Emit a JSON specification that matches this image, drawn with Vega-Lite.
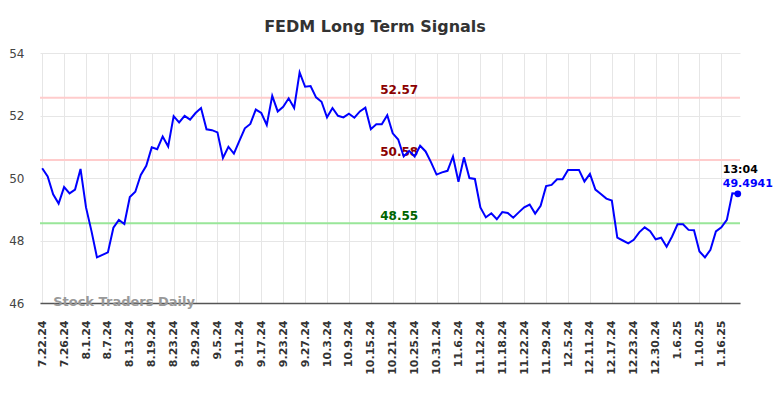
{
  "$schema": "https://vega.github.io/schema/vega-lite/v6.json",
  "width": 700,
  "height": 250,
  "autosize": {"type": "none"},
  "padding": {"left": 40, "top": 53, "right": 44, "bottom": 95},
  "background": "white",
  "title": {"text": "FEDM Long Term Signals", "font": "DejaVu Sans", "fontSize": 16, "fontWeight": "bold", "color": "#333333", "anchor": "middle", "dx": -15, "offset": 12},
  "config": {"view": {"stroke": null}, "font": "DejaVu Sans"},
  "resolve": {"scale": {"color": "independent"}},
  "datasets": {
    "prices": [
      {"date": "7.22.24", "close": 50.31}, {"date": "7.23.24", "close": 50.05}, {"date": "7.24.24", "close": 49.48}, {"date": "7.25.24", "close": 49.18},
      {"date": "7.26.24", "close": 49.71}, {"date": "7.29.24", "close": 49.51}, {"date": "7.30.24", "close": 49.63}, {"date": "7.31.24", "close": 50.29},
      {"date": "8.1.24", "close": 49.06}, {"date": "8.2.24", "close": 48.3}, {"date": "8.5.24", "close": 47.46}, {"date": "8.6.24", "close": 47.54},
      {"date": "8.7.24", "close": 47.62}, {"date": "8.8.24", "close": 48.41}, {"date": "8.9.24", "close": 48.66}, {"date": "8.12.24", "close": 48.53},
      {"date": "8.13.24", "close": 49.39}, {"date": "8.14.24", "close": 49.56}, {"date": "8.15.24", "close": 50.10}, {"date": "8.16.24", "close": 50.39},
      {"date": "8.19.24", "close": 50.98}, {"date": "8.20.24", "close": 50.92}, {"date": "8.21.24", "close": 51.33}, {"date": "8.22.24", "close": 51.01},
      {"date": "8.23.24", "close": 51.98}, {"date": "8.26.24", "close": 51.78}, {"date": "8.27.24", "close": 51.99}, {"date": "8.28.24", "close": 51.87},
      {"date": "8.29.24", "close": 52.08}, {"date": "8.30.24", "close": 52.24}, {"date": "9.3.24", "close": 51.56}, {"date": "9.4.24", "close": 51.53},
      {"date": "9.5.24", "close": 51.46}, {"date": "9.6.24", "close": 50.64}, {"date": "9.9.24", "close": 51.0}, {"date": "9.10.24", "close": 50.78},
      {"date": "9.11.24", "close": 51.19}, {"date": "9.12.24", "close": 51.59}, {"date": "9.13.24", "close": 51.73}, {"date": "9.16.24", "close": 52.19},
      {"date": "9.17.24", "close": 52.08}, {"date": "9.18.24", "close": 51.70}, {"date": "9.19.24", "close": 52.63}, {"date": "9.20.24", "close": 52.13},
      {"date": "9.23.24", "close": 52.28}, {"date": "9.24.24", "close": 52.55}, {"date": "9.25.24", "close": 52.24}, {"date": "9.26.24", "close": 53.38},
      {"date": "9.27.24", "close": 52.92}, {"date": "9.30.24", "close": 52.94}, {"date": "10.1.24", "close": 52.58}, {"date": "10.2.24", "close": 52.44},
      {"date": "10.3.24", "close": 51.94}, {"date": "10.4.24", "close": 52.24}, {"date": "10.7.24", "close": 51.99}, {"date": "10.8.24", "close": 51.94},
      {"date": "10.9.24", "close": 52.06}, {"date": "10.10.24", "close": 51.93}, {"date": "10.11.24", "close": 52.13}, {"date": "10.14.24", "close": 52.25},
      {"date": "10.15.24", "close": 51.56}, {"date": "10.16.24", "close": 51.72}, {"date": "10.17.24", "close": 51.72}, {"date": "10.18.24", "close": 52.01},
      {"date": "10.21.24", "close": 51.43}, {"date": "10.22.24", "close": 51.23}, {"date": "10.23.24", "close": 50.69}, {"date": "10.24.24", "close": 50.87},
      {"date": "10.25.24", "close": 50.69}, {"date": "10.28.24", "close": 51.03}, {"date": "10.29.24", "close": 50.85}, {"date": "10.30.24", "close": 50.50},
      {"date": "10.31.24", "close": 50.11}, {"date": "11.1.24", "close": 50.18}, {"date": "11.4.24", "close": 50.23}, {"date": "11.5.24", "close": 50.69},
      {"date": "11.6.24", "close": 49.88}, {"date": "11.7.24", "close": 50.66}, {"date": "11.8.24", "close": 50.0}, {"date": "11.11.24", "close": 49.97},
      {"date": "11.12.24", "close": 49.06}, {"date": "11.13.24", "close": 48.74}, {"date": "11.14.24", "close": 48.87}, {"date": "11.15.24", "close": 48.68},
      {"date": "11.18.24", "close": 48.91}, {"date": "11.19.24", "close": 48.88}, {"date": "11.20.24", "close": 48.73}, {"date": "11.21.24", "close": 48.90},
      {"date": "11.22.24", "close": 49.06}, {"date": "11.25.24", "close": 49.15}, {"date": "11.26.24", "close": 48.86}, {"date": "11.27.24", "close": 49.11},
      {"date": "11.29.24", "close": 49.74}, {"date": "12.2.24", "close": 49.78}, {"date": "12.3.24", "close": 49.96}, {"date": "12.4.24", "close": 49.96},
      {"date": "12.5.24", "close": 50.26}, {"date": "12.6.24", "close": 50.26}, {"date": "12.9.24", "close": 50.26}, {"date": "12.10.24", "close": 49.89},
      {"date": "12.11.24", "close": 50.13}, {"date": "12.12.24", "close": 49.63}, {"date": "12.13.24", "close": 49.49}, {"date": "12.16.24", "close": 49.34},
      {"date": "12.17.24", "close": 49.28}, {"date": "12.18.24", "close": 48.09}, {"date": "12.19.24", "close": 48.0}, {"date": "12.20.24", "close": 47.91},
      {"date": "12.23.24", "close": 48.02}, {"date": "12.24.24", "close": 48.26}, {"date": "12.26.24", "close": 48.42}, {"date": "12.27.24", "close": 48.30},
      {"date": "12.30.24", "close": 48.04}, {"date": "12.31.24", "close": 48.09}, {"date": "1.2.25", "close": 47.80}, {"date": "1.3.25", "close": 48.13},
      {"date": "1.6.25", "close": 48.52}, {"date": "1.7.25", "close": 48.52}, {"date": "1.8.25", "close": 48.34}, {"date": "1.9.25", "close": 48.33},
      {"date": "1.10.25", "close": 47.65}, {"date": "1.13.25", "close": 47.46}, {"date": "1.14.25", "close": 47.70}, {"date": "1.15.25", "close": 48.29},
      {"date": "1.16.25", "close": 48.42}, {"date": "1.17.25", "close": 48.66}, {"date": "1.21.25", "close": 49.51}, {"date": "1.22.25", "close": 49.4941}
    ],
    "levels": [
      {"level": 52.57, "label": "52.57", "kind": "upper"},
      {"level": 50.58, "label": "50.58", "kind": "middle"},
      {"level": 48.55, "label": "48.55", "kind": "lower"}
    ],
    "last": [
      {"date": "1.22.25", "close": 49.4941, "time": "13:04", "label": "49.4941"}
    ],
    "brand": [
      {"date": "7.24.24", "close": 46, "label": "Stock Traders Daily"}
    ]
  },
  "layer": [
    {
      "data": {"name": "prices"},
      "mark": {"type": "line", "color": "#0000ff", "strokeWidth": 2, "strokeOpacity": 0},
      "encoding": {
        "x": {
          "field": "date", "type": "ordinal", "sort": null,
          "scale": {"type": "point", "padding": 0.4},
          "axis": {
            "title": null, "labelAngle": -90, "labelFont": "DejaVu Sans", "labelFontSize": 11, "labelFontWeight": "bold",
            "labelColor": "#333333", "labelPadding": 17, "ticks": false, "domain": true, "domainColor": "#555555", "domainWidth": 1.5,
            "grid": true, "gridColor": "#e6e6e6", "gridWidth": 1,
            "values": ["7.22.24","7.26.24","8.1.24","8.7.24","8.13.24","8.19.24","8.23.24","8.29.24","9.5.24","9.11.24","9.17.24","9.23.24","9.27.24","10.3.24","10.9.24","10.15.24","10.21.24","10.25.24","10.31.24","11.6.24","11.12.24","11.18.24","11.22.24","11.29.24","12.5.24","12.11.24","12.17.24","12.23.24","12.30.24","1.6.25","1.10.25","1.16.25"]
          }
        },
        "y": {
          "field": "close", "type": "quantitative",
          "scale": {"domain": [46, 54], "nice": false, "zero": false},
          "axis": {
            "title": null, "values": [46, 48, 50, 52, 54], "labelFont": "DejaVu Sans", "labelFontSize": 12, "labelColor": "#444444",
            "labelPadding": 16, "ticks": false, "domain": false, "grid": true, "gridColor": "#e6e6e6", "gridWidth": 1
          }
        }
      }
    },
    {
      "data": {"name": "levels"},
      "mark": {"type": "rule", "strokeWidth": 2},
      "encoding": {
        "y": {"field": "level", "type": "quantitative"},
        "color": {"field": "kind", "type": "nominal", "scale": {"domain": ["upper", "middle", "lower"], "range": ["#ffcccc", "#ffcccc", "#99e699"]}, "legend": null}
      }
    },
    {
      "data": {"name": "levels"},
      "mark": {"type": "text", "font": "DejaVu Sans", "fontSize": 12, "fontWeight": "bold", "align": "center", "baseline": "middle", "dy": -7.5, "dx": 1},
      "encoding": {
        "x": {"datum": "10.22.24", "type": "ordinal"},
        "y": {"field": "level", "type": "quantitative"},
        "text": {"field": "label"},
        "color": {"field": "label", "type": "nominal", "scale": {"domain": ["52.57", "50.58", "48.55"], "range": ["#8b0000", "#8b0000", "#006400"]}, "legend": null}
      }
    },
    {
      "data": {"name": "prices"},
      "mark": {"type": "line", "color": "#0000ff", "strokeWidth": 2},
      "encoding": {
        "x": {"field": "date", "type": "ordinal", "sort": null},
        "y": {"field": "close", "type": "quantitative"}
      }
    },
    {
      "data": {"name": "brand"},
      "mark": {"type": "text", "font": "DejaVu Sans", "fontSize": 13, "fontWeight": "bold", "align": "left", "baseline": "middle", "color": "#999999", "dy": -1},
      "encoding": {
        "x": {"field": "date", "type": "ordinal", "sort": null},
        "y": {"field": "close", "type": "quantitative"},
        "text": {"field": "label"}
      }
    },
    {
      "data": {"name": "last"},
      "mark": {"type": "point", "filled": true, "color": "#0000ff", "size": 45, "opacity": 1},
      "encoding": {
        "x": {"field": "date", "type": "ordinal", "sort": null},
        "y": {"field": "close", "type": "quantitative"}
      }
    },
    {
      "data": {"name": "last"},
      "mark": {"type": "text", "font": "DejaVu Sans", "fontSize": 11, "fontWeight": "bold", "align": "left", "baseline": "middle", "color": "#000000", "dx": -15, "dy": -24},
      "encoding": {
        "x": {"field": "date", "type": "ordinal", "sort": null},
        "y": {"field": "close", "type": "quantitative"},
        "text": {"field": "time"}
      }
    },
    {
      "data": {"name": "last"},
      "mark": {"type": "text", "font": "DejaVu Sans", "fontSize": 11, "fontWeight": "bold", "align": "left", "baseline": "middle", "color": "#0000ff", "dx": -15, "dy": -10},
      "encoding": {
        "x": {"field": "date", "type": "ordinal", "sort": null},
        "y": {"field": "close", "type": "quantitative"},
        "text": {"field": "label"}
      }
    }
  ]
}
